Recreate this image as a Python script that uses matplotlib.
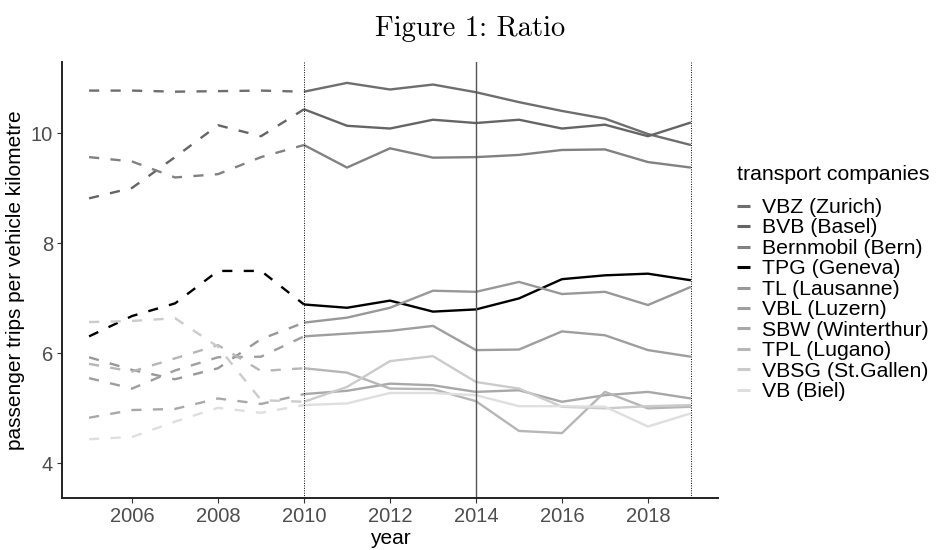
import matplotlib
matplotlib.use("Agg")
import matplotlib.pyplot as plt

# years: dashed part up to 2010, solid part from 2010
years_pre = [2005, 2006, 2007, 2008, 2009, 2010]
years_post = [2010, 2011, 2012, 2013, 2014, 2015, 2016, 2017, 2018, 2019]

companies = ["VBZ (Zurich)", "BVB (Basel)", "Bernmobil (Bern)", "TPG (Geneva)",
             "TL (Lausanne)", "VBL (Luzern)", "SBW (Winterthur)", "TPL (Lugano)",
             "VBSG (St.Gallen)", "VB (Biel)"]

vbz_pre = [10.78, 10.78, 10.76, 10.77, 10.78, 10.76]
vbz_post = [10.76, 10.92, 10.80, 10.89, 10.75, 10.57, 10.41, 10.27, 9.99, 9.79]
bvb_pre = [8.82, 9.01, 9.57, 10.15, 9.95, 10.44]
bvb_post = [10.44, 10.14, 10.09, 10.25, 10.19, 10.25, 10.09, 10.16, 9.95, 10.20]
bern_pre = [9.57, 9.49, 9.20, 9.26, 9.57, 9.79]
bern_post = [9.79, 9.38, 9.73, 9.56, 9.57, 9.61, 9.70, 9.71, 9.48, 9.38]
tpg_pre = [6.31, 6.68, 6.91, 7.50, 7.50, 6.89]
tpg_post = [6.89, 6.83, 6.96, 6.76, 6.80, 7.00, 7.35, 7.42, 7.45, 7.33]
tl_pre = [5.93, 5.70, 5.53, 5.73, 6.26, 6.56]
tl_post = [6.56, 6.65, 6.83, 7.14, 7.12, 7.30, 7.08, 7.12, 6.88, 7.21]
vbl_pre = [5.55, 5.36, 5.69, 5.93, 5.94, 6.31]
vbl_post = [6.31, 6.36, 6.41, 6.50, 6.06, 6.07, 6.40, 6.33, 6.06, 5.94]
sbw_pre = [4.83, 4.97, 4.99, 5.18, 5.08, 5.26]
sbw_post = [5.26, 5.32, 5.45, 5.42, 5.30, 5.33, 5.12, 5.24, 5.30, 5.18]
tpl_pre = [5.81, 5.67, 5.91, 6.15, 5.68, 5.73]
tpl_post = [5.73, 5.65, 5.36, 5.35, 5.13, 4.59, 4.55, 5.30, 5.00, 5.03]
vbsg_pre = [6.57, 6.59, 6.64, 6.12, 5.15, 5.12]
vbsg_post = [5.12, 5.39, 5.86, 5.95, 5.48, 5.36, 5.03, 5.00, 5.04, 5.06]
vb_pre = [4.44, 4.48, 4.76, 5.01, 4.92, 5.06]
vb_post = [5.06, 5.09, 5.28, 5.28, 5.24, 5.04, 5.04, 5.03, 4.67, 4.91]

pre = [vbz_pre, bvb_pre, bern_pre, tpg_pre, tl_pre, vbl_pre, sbw_pre, tpl_pre, vbsg_pre, vb_pre]
post = [vbz_post, bvb_post, bern_post, tpg_post, tl_post, vbl_post, sbw_post, tpl_post, vbsg_post, vb_post]

colors = ["#6e6e6e", "#656565", "#818181", "#000000", "#989898",
          "#9e9e9e", "#a8a8a8", "#b6b6b6", "#cbcbcb", "#dfdfdf"]

fig = plt.figure(figsize=(9.36, 5.5), dpi=100)
ax = fig.add_axes([62/936, 52/550, 656/936, 436/550])

lw = 1.7
handles = []
for name, p, q, c in zip(companies, pre, post, colors):
    ax.plot(years_pre, p, color=c, lw=lw, dashes=(4.3, 4.8), dash_capstyle="butt")
    h, = ax.plot(years_post, q, color=c, lw=lw, solid_capstyle="butt", label=name)
    handles.append(h)

# period markers
ax.axvline(2010, color="black", lw=0.7, ls=(0, (1, 1.5)))
ax.axvline(2019, color="black", lw=0.7, ls=(0, (1, 1.5)))
ax.axvline(2014, color="#555555", lw=1.0)

ax.set_xlim(2004.37, 2019.63)
ax.set_ylim(3.37, 11.3)
ax.set_xticks([2006, 2008, 2010, 2012, 2014, 2016, 2018])
ax.set_yticks([4, 6, 8, 10])

for s in ["top", "right"]:
    ax.spines[s].set_visible(False)
for s in ["left", "bottom"]:
    ax.spines[s].set_linewidth(1.4)
    ax.spines[s].set_color("#222222")
ax.tick_params(length=3.5, width=0.8, color="#333333", labelcolor="#4d4d4d",
               labelsize=14.5, pad=3)
for t in ax.get_xticklabels() + ax.get_yticklabels():
    t.set_family("Liberation Sans")

ax.set_xlabel("year", family="Liberation Sans", fontsize=15, labelpad=2)
ax.set_ylabel("passenger trips per vehicle kilometre", family="Liberation Sans",
              fontsize=15, labelpad=4)

leg = ax.legend(handles=handles, loc="upper left",
                bbox_to_anchor=(737/936, 1 - 198/550), bbox_transform=fig.transFigure,
                frameon=False, borderpad=0, borderaxespad=0, handlelength=0.6,
                handletextpad=0.6, labelspacing=0.07,
                prop={"family": "Liberation Sans", "size": 15.3})
for h in leg.legend_handles:
    h.set_linewidth(2.2)

fig.text(737/936, 1 - 175/550, "transport companies", family="Liberation Sans",
         fontsize=15.3, ha="left", va="center")

fig.text(470/936, 1 - 29/550, "Figure 1: Ratio", family=["cmr10", "DejaVu Serif"],
         fontsize=20.6, ha="center", va="center")

fig.savefig("out.png", dpi=100)
